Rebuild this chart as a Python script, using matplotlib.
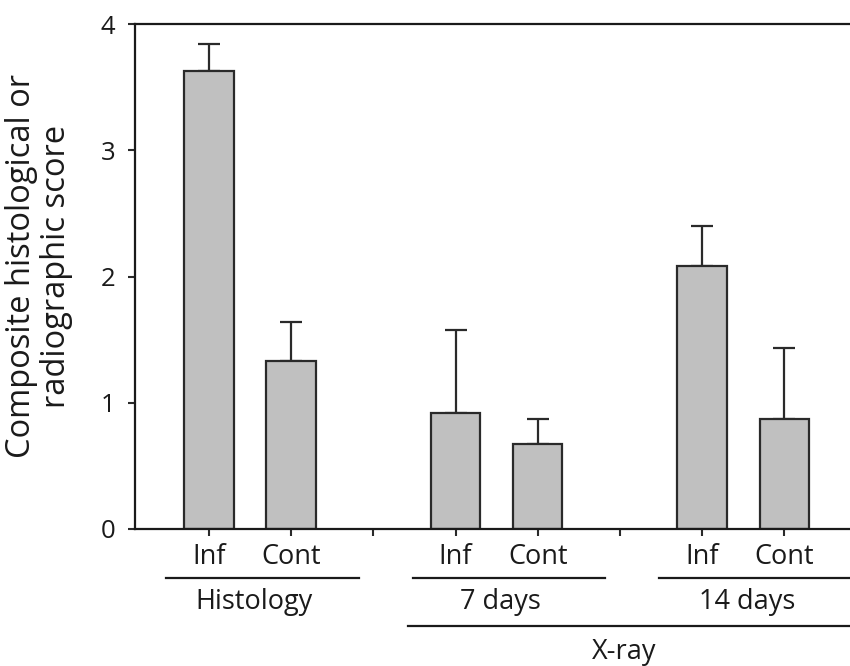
import matplotlib
matplotlib.use("Agg")
import matplotlib.pyplot as plt
import matplotlib.transforms as mtrans

plt.rcParams['font.family'] = ['Open Sans', 'DejaVu Sans']

# Data
bar_labels = ["Inf", "Cont", "", "Inf", "Cont", "", "Inf", "Cont"]
positions = [0, 1, 3, 4, 6, 7]
values = [3.63, 1.33, 0.92, 0.67, 2.08, 0.87]
errors = [0.21, 0.31, 0.66, 0.20, 0.32, 0.56]
groups = ["Histology", "7 days", "14 days"]
super_group = "X-ray"
ylabel = "Composite histological or\nradiographic score"

FS = 19.5
W, H = 850, 666

fig = plt.figure(figsize=(8.5, 6.66), dpi=100)
ax = fig.add_axes([135/W, 1-529/H, 1-135/W, (529-24)/H])

ax.bar(positions, values, width=0.6, color="#c0c0c0", edgecolor="#2a2a2a",
       linewidth=1.6, zorder=2)
ax.errorbar(positions, values, yerr=[[0]*len(errors), errors], fmt="none",
            ecolor="#2a2a2a", elinewidth=1.6, capsize=8, capthick=1.6, zorder=1)

ax.set_xlim(-0.9, 7.8)
ax.set_ylim(0, 4)
ax.set_yticks([0, 1, 2, 3, 4])
ax.set_xticks(range(len(bar_labels)))
ax.set_xticklabels(bar_labels)
ax.tick_params(axis="both", direction="out", length=5, width=1.5, color="#2a2a2a",
               labelcolor="#1a1a1a")
ax.tick_params(axis="x", pad=5, labelsize=FS)
ax.tick_params(axis="y", pad=9, labelsize=18.5)
for s in ["left", "bottom", "top"]:
    ax.spines[s].set_linewidth(1.6)
    ax.spines[s].set_color("#1a1a1a")
ax.spines["right"].set_visible(False)

fig.text(39/W, 1-266/H, ylabel, rotation=90, ha="center", va="center",
         fontsize=23.5, color="#1a1a1a", linespacing=1.05, multialignment="center")

trans = mtrans.blended_transform_factory(ax.transData, ax.transAxes)
y_line1 = -(577.7 - 529) / (529 - 24)
y_text1 = -(601.7 - 529) / (529 - 24)
y_line2 = -(625.7 - 529) / (529 - 24)
y_text2 = -(651.7 - 529) / (529 - 24)

group_starts = [0, 3, 6]
for g, x0 in zip(groups, group_starts):
    ax.plot([x0 - 0.52, x0 + 1.82], [y_line1, y_line1], transform=trans,
            color="#1a1a1a", lw=1.6, clip_on=False)
    ax.text(x0 + 0.55, y_text1, g, transform=trans, ha="center", va="center",
            fontsize=FS, color="#1a1a1a")

ax.plot([3 - 0.58, 8.5], [y_line2, y_line2], transform=trans,
        color="#1a1a1a", lw=1.6, clip_on=False)
ax.text(5.05, y_text2, super_group, transform=trans, ha="center", va="center",
        fontsize=FS, color="#1a1a1a")

fig.savefig("out.png", dpi=100)
